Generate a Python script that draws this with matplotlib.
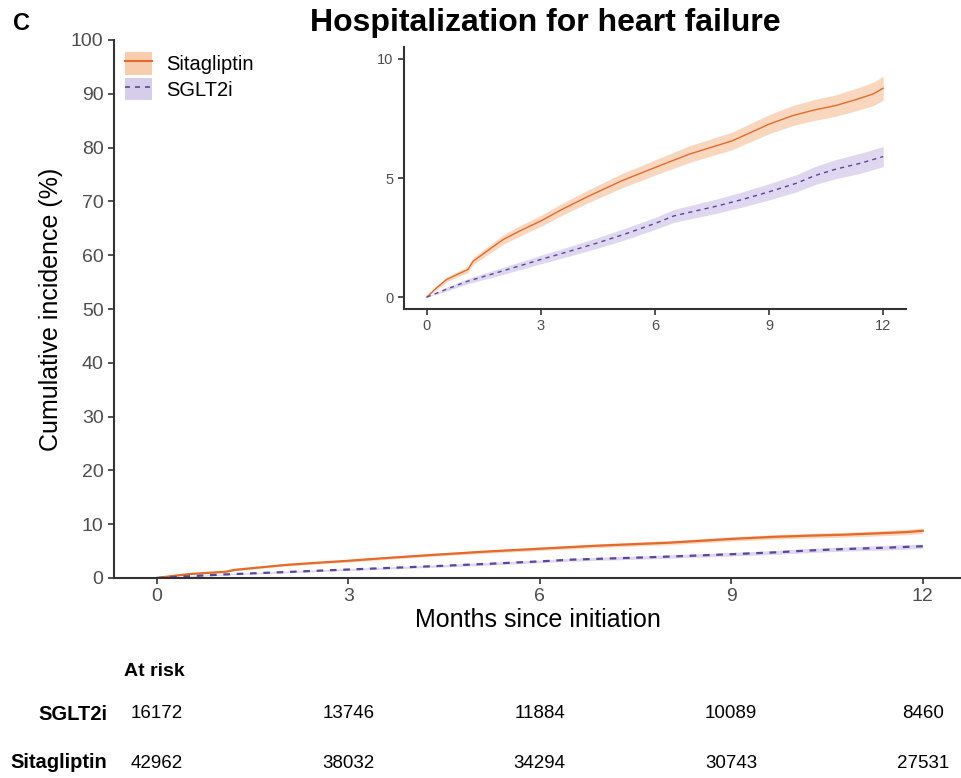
import numpy as np
import matplotlib
matplotlib.use("Agg")
import matplotlib.pyplot as plt
from matplotlib.patches import Patch
from matplotlib.lines import Line2D
from matplotlib.legend_handler import HandlerTuple
from matplotlib.transforms import blended_transform_factory

plt.rcParams['font.family'] = ['Liberation Sans', 'DejaVu Sans']

# cumulative incidence (%)
sita_t = [0, 0.25, 0.52, 0.8, 1.08, 1.22, 1.6, 2.02, 2.5, 3.0, 3.6, 4.27, 5.12, 6.0, 6.9, 8.03, 9.0, 9.62, 10.2, 10.75, 11.3, 11.74, 12.0]
sita_y = [0, 0.38, 0.74, 0.95, 1.16, 1.51, 1.95, 2.43, 2.82, 3.20, 3.72, 4.25, 4.88, 5.44, 6.00, 6.56, 7.26, 7.62, 7.86, 8.04, 8.30, 8.53, 8.77]
sita_lo = [0, 0.30, 0.64, 0.84, 1.03, 1.36, 1.78, 2.23, 2.60, 2.97, 3.47, 3.98, 4.58, 5.12, 5.65, 6.19, 6.86, 7.20, 7.42, 7.59, 7.83, 8.04, 8.27]
sita_hi = [0, 0.46, 0.84, 1.06, 1.29, 1.66, 2.12, 2.63, 3.04, 3.43, 3.97, 4.52, 5.18, 5.76, 6.35, 6.93, 7.66, 8.04, 8.30, 8.49, 8.77, 9.02, 9.27]

sglt_t = [0, 0.5, 1.08, 2.0, 3.0, 3.7, 4.46, 5.2, 6.0, 6.5, 7.65, 8.3, 9.0, 9.72, 10.2, 10.75, 11.4, 12.0]
sglt_y = [0, 0.32, 0.67, 1.10, 1.58, 1.90, 2.26, 2.64, 3.09, 3.41, 3.83, 4.10, 4.42, 4.78, 5.10, 5.37, 5.62, 5.90]
sglt_lo = [0, 0.24, 0.56, 0.95, 1.40, 1.70, 2.04, 2.40, 2.84, 3.14, 3.53, 3.78, 4.08, 4.42, 4.72, 4.97, 5.20, 5.48]
sglt_hi = [0, 0.40, 0.78, 1.25, 1.76, 2.10, 2.48, 2.88, 3.34, 3.68, 4.13, 4.42, 4.76, 5.14, 5.48, 5.77, 6.04, 6.32]

# numbers at risk
risk_t = [0, 3, 6, 9, 12]
risk_sglt = [16172, 13746, 11884, 10089, 8460]
risk_sita = [42962, 38032, 34294, 30743, 27531]

orange = '#E46A2B'
orange_band = '#F7CDAE'
purple = '#57479A'
purple_band = '#D6CDEB'
axis_col = '#333333'
tick_col = '#4D4D4D'

W, H = 961, 778
fig = plt.figure(figsize=(W / 100, H / 100), dpi=100)


def px_axes(l, t, r, b):
    return fig.add_axes([l / W, 1 - b / H, (r - l) / W, (b - t) / H])


def style(ax, size):
    for s in ['top', 'right']:
        ax.spines[s].set_visible(False)
    for s in ['left', 'bottom']:
        ax.spines[s].set_color(axis_col)
        ax.spines[s].set_linewidth(1.5)
    ax.tick_params(colors=axis_col, labelcolor=tick_col, labelsize=size,
                   width=1.2, length=4)


def draw(ax, lw):
    ax.fill_between(sita_t, sita_lo, sita_hi, color=orange_band, alpha=0.8, lw=0)
    ax.fill_between(sglt_t, sglt_lo, sglt_hi, color=purple_band, alpha=0.8, lw=0)
    ax.plot(sita_t, sita_y, color=orange, lw=lw)
    ax.plot(sglt_t, sglt_y, color=purple, lw=lw, ls=(0, (3, 3)))


# main panel
ax = px_axes(114, 40, 961, 578)
draw(ax, 1.6)
ax.set_xlim(-0.67, 12.6)
ax.set_ylim(0, 100)
ax.set_xticks([0, 3, 6, 9, 12])
ax.set_yticks(range(0, 101, 10))
style(ax, 14)
ax.set_xlabel('Months since initiation', fontsize=18, labelpad=2)
ax.set_ylabel('Cumulative incidence (%)', fontsize=18, labelpad=6)

handles = [(Patch(facecolor=orange_band, edgecolor='none'), Line2D([], [], color=orange, lw=1.5)),
           (Patch(facecolor=purple_band, edgecolor='none'), Line2D([], [], color=purple, lw=1.2, ls=(0, (3, 3))))]
fig.legend(handles, ['Sitagliptin', 'SGLT2i'], handler_map={tuple: HandlerTuple(ndivide=1, pad=0)},
           loc='upper left', bbox_to_anchor=(125 / W, 1 - 52 / H), frameon=False, fontsize=14.5,
           handlelength=1.35, handleheight=1.35, labelspacing=0.15, handletextpad=0.7,
           borderpad=0, borderaxespad=0)

# inset
ins = px_axes(404, 47, 906, 309)
draw(ins, 1.0)
ins.set_xlim(-0.6, 12.6)
ins.set_ylim(-0.5, 10.5)
ins.set_xticks([0, 3, 6, 9, 12])
ins.set_yticks([0, 5, 10])
style(ins, 10.5)

fig.text(545 / W, 1 - 23 / H, 'Hospitalization for heart failure', fontsize=23,
         fontweight='bold', ha='center', va='center')
fig.text(21 / W, 1 - 23 / H, 'C', fontsize=17, fontweight='bold', ha='center', va='center')

# at-risk table
tr = blended_transform_factory(ax.transData, fig.transFigure)
fig.text(124 / W, 1 - 672 / H, 'At risk', fontsize=14, fontweight='bold', va='center')
for name, vals, y in [('SGLT2i', risk_sglt, 714), ('Sitagliptin', risk_sita, 763)]:
    fig.text(107 / W, 1 - y / H, name, fontsize=14.5, fontweight='bold', ha='right', va='center')
    for t, v in zip(risk_t, vals):
        ax.text(t, 1 - y / H, str(v), transform=tr, fontsize=13.5, ha='center', va='center')

fig.savefig('out.png', dpi=100)
